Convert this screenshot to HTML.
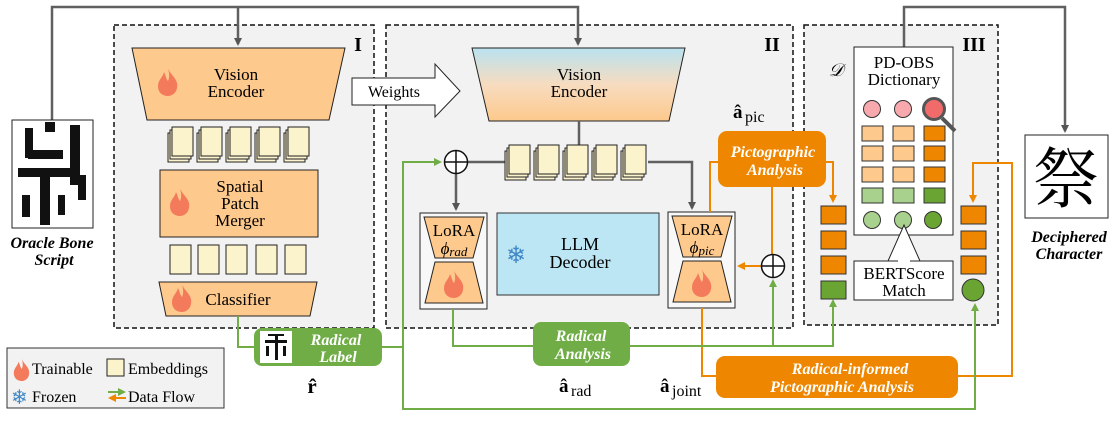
<!DOCTYPE html>
<html><head><meta charset="utf-8"><style>
body{margin:0;background:#fff}
text{font-family:"Liberation Serif","Noto Serif CJK SC",serif}
</style></head><body>
<svg width="1117" height="423" viewBox="0 0 1117 423" xmlns="http://www.w3.org/2000/svg">
<defs>
<linearGradient id="ve" x1="0" y1="0" x2="0" y2="1"><stop offset="0" stop-color="#b9e2f0"/><stop offset="0.5" stop-color="#f7dcc0"/><stop offset="1" stop-color="#fdc98c"/></linearGradient>
<g id="stk"><rect x="0" y="6" width="21" height="29" fill="#fbf3cc" stroke="#222" stroke-width="1"/><rect x="2" y="3" width="21" height="29" fill="#fbf3cc" stroke="#222" stroke-width="1"/><rect x="4" y="0" width="21" height="29" fill="#fbf3cc" stroke="#222" stroke-width="1"/></g>
<path id="fl" d="M11,0 C13,7 22,11 20,20 C19,26 14,28 11,28 C6,28 1,25 1,18 C1,12 6,9 7,4 C9,8 9,11 11,13 C13,9 12,4 11,0 Z" fill="#f47a5c"/>
<marker id="ag" markerWidth="8" markerHeight="8" refX="6" refY="4" orient="auto" markerUnits="userSpaceOnUse"><path d="M0,0 L8,4 L0,8 Z" fill="#555"/></marker>
<marker id="ao" markerWidth="8" markerHeight="8" refX="6" refY="4" orient="auto" markerUnits="userSpaceOnUse"><path d="M0,0 L8,4 L0,8 Z" fill="#ee8600"/></marker>
<marker id="agr" markerWidth="8" markerHeight="8" refX="6" refY="4" orient="auto" markerUnits="userSpaceOnUse"><path d="M0,0 L8,4 L0,8 Z" fill="#70ad47"/></marker>
</defs>

<rect x="114" y="25" width="260" height="303" fill="#f2f2f2" stroke="#111" stroke-width="1.5" stroke-dasharray="5,3"/>
<rect x="386" y="25" width="407" height="303" fill="#f2f2f2" stroke="#111" stroke-width="1.5" stroke-dasharray="5,3"/>
<rect x="804" y="25" width="194" height="300" fill="#f2f2f2" stroke="#111" stroke-width="1.5" stroke-dasharray="5,3"/>
<text x="358" y="51" font-size="20" font-weight="bold" text-anchor="middle">I</text>
<text x="772" y="51" font-size="20" font-weight="bold" text-anchor="middle">II</text>
<text x="974" y="51" font-size="20" font-weight="bold" text-anchor="middle">III</text>

<polyline points="52,120 52,7 578,7 578,44" fill="none" stroke="#606060" stroke-width="2.5" marker-end="url(#ag)"/>
<line x1="238" y1="7" x2="238" y2="44" stroke="#606060" stroke-width="2.5" marker-end="url(#ag)"/>
<polyline points="904,47 904,7 1065,7 1065,131" fill="none" stroke="#606060" stroke-width="2.5" marker-end="url(#ag)"/>

<rect x="12" y="120" width="81" height="108" fill="#fff" stroke="#222" stroke-width="1"/>
<g fill="#111">
<rect x="25" y="128" width="8" height="30"/><rect x="28" y="150" width="35" height="9"/><rect x="45" y="122" width="10" height="10"/><rect x="70" y="125" width="10" height="60"/><rect x="18" y="168" width="62" height="9"/><rect x="40" y="175" width="10" height="50"/><rect x="22" y="195" width="8" height="22"/><rect x="58" y="195" width="7" height="20"/><rect x="78" y="175" width="8" height="25"/>
</g>
<text x="52" y="248" font-size="16" font-weight="bold" font-style="italic" text-anchor="middle">Oracle Bone</text>
<text x="54" y="265" font-size="16" font-weight="bold" font-style="italic" text-anchor="middle">Script</text>

<polygon points="132,48 345,48 329,120 147,120" fill="#fdc98c" stroke="#222" stroke-width="1"/>
<use href="#fl" x="157" y="68"/>
<text x="236" y="80" font-size="17" text-anchor="middle">Vision</text>
<text x="236" y="97" font-size="17" text-anchor="middle">Encoder</text>
<use href="#stk" x="168" y="127"/><use href="#stk" x="197" y="127"/><use href="#stk" x="226" y="127"/><use href="#stk" x="255" y="127"/><use href="#stk" x="284" y="127"/>
<rect x="160" y="170" width="158" height="67" fill="#fdc98c" stroke="#222" stroke-width="1"/>
<use href="#fl" x="169" y="188"/>
<text x="240" y="192" font-size="17" text-anchor="middle">Spatial</text>
<text x="240" y="209" font-size="17" text-anchor="middle">Patch</text>
<text x="240" y="226" font-size="17" text-anchor="middle">Merger</text>
<g fill="#fbf3cc" stroke="#222" stroke-width="1"><rect x="170" y="245" width="21" height="29"/><rect x="198" y="245" width="21" height="29"/><rect x="226" y="245" width="21" height="29"/><rect x="256" y="245" width="21" height="29"/><rect x="285" y="245" width="21" height="29"/></g>
<polygon points="159,282 317,282 310,316 166,316" fill="#fdc98c" stroke="#222" stroke-width="1"/>
<use href="#fl" x="171" y="284"/>
<text x="238" y="305" font-size="17" text-anchor="middle">Classifier</text>

<polygon points="352,78 435,78 435,64 460,91 435,117 435,105 352,105" fill="#fff" stroke="#222" stroke-width="1"/>
<text x="394" y="97" font-size="16" text-anchor="middle">Weights</text>

<polygon points="472,48 685,48 669,121 489,121" fill="url(#ve)" stroke="#222" stroke-width="1"/>
<text x="579" y="80" font-size="17" text-anchor="middle">Vision</text>
<text x="579" y="97" font-size="17" text-anchor="middle">Encoder</text>
<text x="733" y="118" font-size="19" font-weight="bold">â</text><text x="745" y="122" font-size="16">pic</text>
<line x1="579" y1="121" x2="579" y2="147" stroke="#606060" stroke-width="2.5"/>
<line x1="468" y1="162" x2="506" y2="162" stroke="#606060" stroke-width="2.5"/>
<use href="#stk" x="505" y="145"/><use href="#stk" x="534" y="145"/><use href="#stk" x="563" y="145"/><use href="#stk" x="592" y="145"/><use href="#stk" x="621" y="145"/>
<polyline points="648,162 692,162 692,208" fill="none" stroke="#606060" stroke-width="2.5" marker-end="url(#ag)"/>
<line x1="456" y1="174" x2="456" y2="209" stroke="#606060" stroke-width="2.5" marker-end="url(#ag)"/>
<circle cx="456" cy="162" r="11.5" fill="#fff" stroke="#111" stroke-width="1.5"/>
<line x1="444.5" y1="162" x2="467.5" y2="162" stroke="#111" stroke-width="1.5"/><line x1="456" y1="150.5" x2="456" y2="173.5" stroke="#111" stroke-width="1.5"/>

<rect x="420" y="213" width="67" height="96" fill="#f8f8f8" stroke="#222" stroke-width="1"/>
<polygon points="424,217 484,217 473,258 435,258" fill="#fdc98c" stroke="#222" stroke-width="1"/>
<polygon points="435,262 473,262 483,303 425,303" fill="#fdc98c" stroke="#222" stroke-width="1"/>
<text x="454" y="236" font-size="17" text-anchor="middle">LoRA</text>
<text x="454" y="254" font-size="17" font-style="italic" text-anchor="middle">ϕ<tspan font-size="13" dy="2">rad</tspan></text>
<use href="#fl" x="443" y="270"/>
<rect x="497" y="213" width="162" height="82" fill="#bde6f5" stroke="#333" stroke-width="1"/>
<text x="516" y="263" font-size="24" fill="#3f88c5" text-anchor="middle">❄</text>
<text x="580" y="250" font-size="18" text-anchor="middle">LLM</text>
<text x="580" y="268" font-size="18" text-anchor="middle">Decoder</text>
<rect x="668" y="212" width="67" height="96" fill="#f8f8f8" stroke="#222" stroke-width="1"/>
<polygon points="672,216 732,216 721,257 683,257" fill="#fdc98c" stroke="#222" stroke-width="1"/>
<polygon points="683,261 721,261 731,302 673,302" fill="#fdc98c" stroke="#222" stroke-width="1"/>
<text x="702" y="235" font-size="17" text-anchor="middle">LoRA</text>
<text x="702" y="253" font-size="17" font-style="italic" text-anchor="middle">ϕ<tspan font-size="13" dy="2">pic</tspan></text>
<use href="#fl" x="691" y="269"/>

<polyline points="710,212 710,162 720,162" fill="none" stroke="#ee8600" stroke-width="2"/>
<line x1="772" y1="187" x2="772" y2="255" stroke="#ee8600" stroke-width="2"/>
<line x1="762" y1="266" x2="739" y2="266" stroke="#ee8600" stroke-width="2" marker-end="url(#ao)"/>
<polyline points="824,162 833,162 833,201" fill="none" stroke="#ee8600" stroke-width="2" marker-end="url(#ao)"/>
<polyline points="702,308 702,376 718,376" fill="none" stroke="#ee8600" stroke-width="2"/>
<polyline points="956,376 1012,376 1012,163 973,163 973,201" fill="none" stroke="#ee8600" stroke-width="2" marker-end="url(#ao)"/>
<rect x="718" y="131" width="108" height="56" rx="9" fill="#ee8600"/>
<text x="773" y="157" font-size="16" font-weight="bold" font-style="italic" fill="#fff" text-anchor="middle">Pictographic</text>
<text x="775" y="175" font-size="16" font-weight="bold" font-style="italic" fill="#fff" text-anchor="middle">Analysis</text>
<rect x="716" y="356" width="242" height="42" rx="9" fill="#ee8600"/>
<text x="850" y="374" font-size="16" font-weight="bold" font-style="italic" fill="#fff" text-anchor="middle">Radical-informed</text>
<text x="842" y="392" font-size="16" font-weight="bold" font-style="italic" fill="#fff" text-anchor="middle">Pictographic Analysis</text>

<polyline points="238,316 238,347 256,347" fill="none" stroke="#70ad47" stroke-width="2"/>
<line x1="380" y1="347" x2="403" y2="347" stroke="#70ad47" stroke-width="2"/>
<polyline points="975,312 975,409 403,409 403,162 440,162" fill="none" stroke="#70ad47" stroke-width="2" marker-end="url(#agr)"/>
<line x1="975" y1="340" x2="975" y2="305" stroke="#70ad47" stroke-width="2" marker-end="url(#agr)"/>
<polyline points="453,309 453,346 535,346" fill="none" stroke="#70ad47" stroke-width="2"/>
<polyline points="628,346 833,346 833,301" fill="none" stroke="#70ad47" stroke-width="2" marker-end="url(#agr)"/>
<line x1="773" y1="346" x2="773" y2="281" stroke="#70ad47" stroke-width="2" marker-end="url(#agr)"/>
<circle cx="773" cy="266" r="11.5" fill="#fff" stroke="#111" stroke-width="1.5"/>
<line x1="761.5" y1="266" x2="784.5" y2="266" stroke="#111" stroke-width="1.5"/><line x1="773" y1="254.5" x2="773" y2="277.5" stroke="#111" stroke-width="1.5"/>
<rect x="254" y="328" width="128" height="38" rx="8" fill="#70ad47"/>
<rect x="260" y="331" width="32" height="32" fill="#fff"/>
<g fill="#111"><rect x="268" y="334" width="16" height="2"/><rect x="275" y="334" width="3" height="26"/><rect x="265" y="340" width="22" height="3"/><rect x="266" y="346" width="3" height="10"/><rect x="283" y="346" width="3" height="10"/></g>
<text x="336" y="345" font-size="16" font-weight="bold" font-style="italic" fill="#fff" text-anchor="middle">Radical</text>
<text x="338" y="362" font-size="16" font-weight="bold" font-style="italic" fill="#fff" text-anchor="middle">Label</text>
<rect x="533" y="322" width="97" height="44" rx="8" fill="#70ad47"/>
<text x="581" y="341" font-size="16" font-weight="bold" font-style="italic" fill="#fff" text-anchor="middle">Radical</text>
<text x="583" y="359" font-size="16" font-weight="bold" font-style="italic" fill="#fff" text-anchor="middle">Analysis</text>
<text x="312" y="393" font-size="21" font-weight="bold" text-anchor="middle">r̂</text>
<text x="559" y="392" font-size="19" font-weight="bold">â</text><text x="571" y="396" font-size="16">rad</text>
<text x="660" y="392" font-size="19" font-weight="bold">â</text><text x="672" y="396" font-size="16">joint</text>

<rect x="7" y="348" width="217" height="60" fill="#f2f2f2" stroke="#333" stroke-width="1"/>
<use href="#fl" x="13" y="357" transform="translate(2.6,73) scale(0.8)"/>
<text x="32" y="374" font-size="16">Trainable</text>
<rect x="107" y="359" width="17" height="17" fill="#fbf3cc" stroke="#222"/>
<text x="128" y="374" font-size="16">Embeddings</text>
<text x="11" y="404" font-size="20" fill="#3f88c5">❄</text>
<text x="32" y="402" font-size="16">Frozen</text>
<line x1="108" y1="392" x2="124" y2="392" stroke="#70ad47" stroke-width="2" marker-end="url(#agr)"/>
<line x1="126" y1="398" x2="110" y2="398" stroke="#ee8600" stroke-width="2" marker-end="url(#ao)"/>
<text x="128" y="402" font-size="16">Data Flow</text>

<text x="836" y="76" font-size="18" font-style="italic" text-anchor="middle">𝒟</text>
<rect x="854" y="47" width="99" height="188" fill="#fff" stroke="#222" stroke-width="1"/>
<text x="904" y="68" font-size="17" text-anchor="middle">PD-OBS</text>
<text x="904" y="85" font-size="17" text-anchor="middle">Dictionary</text>
<g stroke="#333" stroke-width="1">
<circle cx="872" cy="109" r="8.5" fill="#f8a9ae"/><circle cx="903" cy="109" r="8.5" fill="#f8a9ae"/>
<rect x="862" y="126" width="21" height="15" fill="#fdc98c"/><rect x="893" y="126" width="21" height="15" fill="#fdc98c"/><rect x="924" y="126" width="21" height="15" fill="#ee8600"/>
<rect x="862" y="146" width="21" height="15" fill="#fdc98c"/><rect x="893" y="146" width="21" height="15" fill="#fdc98c"/><rect x="924" y="146" width="21" height="15" fill="#ee8600"/>
<rect x="862" y="167" width="21" height="15" fill="#fdc98c"/><rect x="893" y="167" width="21" height="15" fill="#fdc98c"/><rect x="924" y="167" width="21" height="15" fill="#ee8600"/>
<rect x="862" y="188" width="21" height="15" fill="#a9d18e"/><rect x="893" y="188" width="21" height="15" fill="#a9d18e"/><rect x="924" y="188" width="21" height="15" fill="#6aa534"/>
<circle cx="872" cy="220" r="8.5" fill="#a9d18e"/><circle cx="903" cy="220" r="8.5" fill="#a9d18e"/><circle cx="933" cy="220" r="8.5" fill="#6aa534"/>
</g>
<line x1="942" y1="118" x2="955" y2="131" stroke="#555" stroke-width="4"/>
<circle cx="934" cy="109" r="10.5" fill="#f26b6b" stroke="#555" stroke-width="3"/>
<polygon points="897,300 897,261 888,261 904,225 920,261 911,261 911,300" fill="#fff" stroke="#222" stroke-width="1"/>
<rect x="854" y="261" width="99" height="39" fill="#fff" stroke="#222" stroke-width="1"/>
<rect x="898" y="259" width="12" height="4" fill="#fff"/>
<text x="904" y="279" font-size="17" text-anchor="middle">BERTScore</text>
<text x="904" y="296" font-size="17" text-anchor="middle">Match</text>
<g stroke="#333" stroke-width="1">
<rect x="821" y="206" width="25" height="18" fill="#ee8600"/><rect x="821" y="231" width="25" height="18" fill="#ee8600"/><rect x="821" y="256" width="25" height="18" fill="#ee8600"/><rect x="821" y="281" width="25" height="18" fill="#6aa534"/>
<rect x="961" y="206" width="25" height="18" fill="#ee8600"/><rect x="961" y="231" width="25" height="18" fill="#ee8600"/><rect x="961" y="256" width="25" height="18" fill="#ee8600"/><circle cx="973" cy="290" r="11" fill="#6aa534"/>
</g>

<rect x="1025" y="135" width="83" height="83" fill="#fff" stroke="#222" stroke-width="1"/>
<text x="1066" y="202" font-size="66" text-anchor="middle" font-family="'Noto Serif CJK SC',serif">祭</text>
<text x="1069" y="242" font-size="16" font-weight="bold" font-style="italic" text-anchor="middle">Deciphered</text>
<text x="1069" y="259" font-size="16" font-weight="bold" font-style="italic" text-anchor="middle">Character</text>
</svg>
</body></html>
